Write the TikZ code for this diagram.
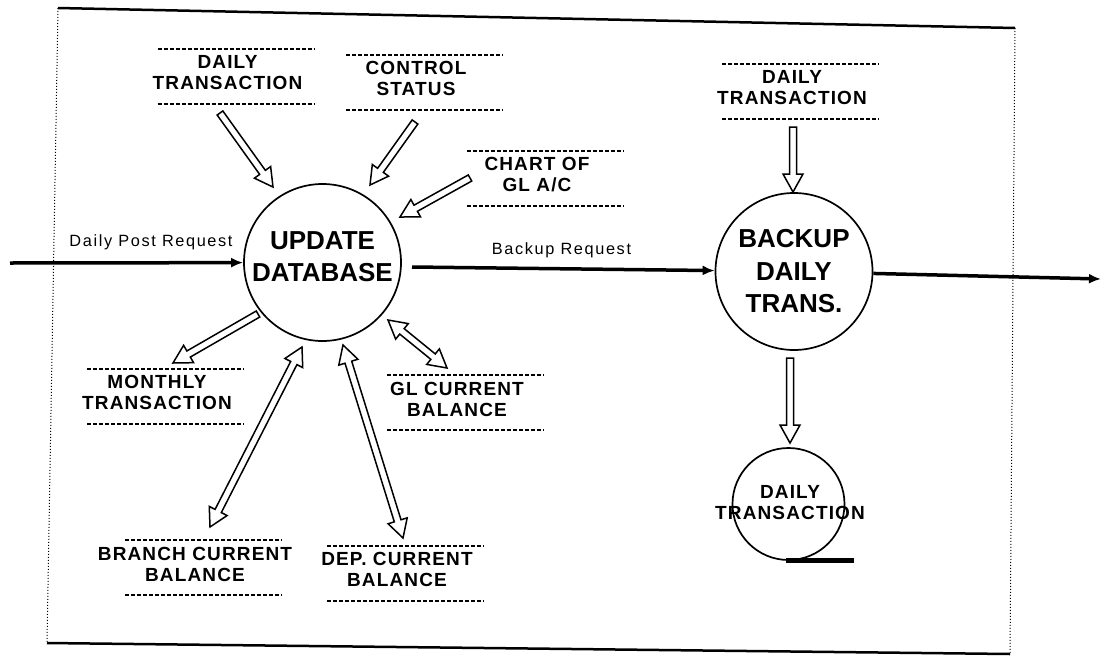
\documentclass[tikz,border=0pt]{standalone}
\usepackage{fontspec}
\setmainfont{Liberation Sans}
\newfontfamily\storefont[LetterSpace=6]{Liberation Sans}
\newfontfamily\flowfont[LetterSpace=10]{Liberation Sans}
\usetikzlibrary{arrows.meta,calc}

\tikzset{
  procfont/.style={font=\bfseries\fontsize{26}{32.5}\selectfont},
  proc/.style={circle, draw, line width=1.7pt, minimum size=157pt, inner sep=0pt,
    align=center, procfont},
  storetext/.style={align=center, inner sep=0pt,
    font=\storefont\bfseries\fontsize{19}{21}\selectfont},
  storeline/.style={line width=2pt, dash pattern=on 4pt off 2pt},
  store/.style={storetext, append after command={
      ([shift={(-70,-24)}]\tikzlastnode.center) edge[storeline] ([shift={(87,-24)}]\tikzlastnode.center)
      ([shift={(-70,31)}]\tikzlastnode.center) edge[storeline] ([shift={(87,31)}]\tikzlastnode.center)}},
  flow/.style={line width=3.5pt, -{Latex[length=12pt,width=10pt]}},
  flowlabel/.style={inner sep=0pt, font=\flowfont\fontsize{16.3}{18}\selectfont},
  hollow/.style={line width=1.5pt, line join=miter, fill=white},
  frameedge/.style={line width=2.5pt},
  frameside/.style={line width=1pt, dotted},
}

% hollow arrow with one open head, from #1 to #2
\newcommand\hollowarrow[2]{%
  \path ($(#2)!18pt!(#1)$) coordinate (hb);
  \draw[hollow] ($(#1)!3.5pt!90:(#2)$) -- ($(hb)!3.5pt!-90:(#1)$)
    -- ($(hb)!10pt!-90:(#1)$) -- (#2) -- ($(hb)!10pt!90:(#1)$)
    -- ($(hb)!3.5pt!90:(#1)$) -- ($(#1)!3.5pt!-90:(#2)$) -- cycle;}

% hollow arrow with open heads at both ends
\newcommand\hollowboth[2]{%
  \path ($(#2)!18pt!(#1)$) coordinate (hb) ($(#1)!18pt!(#2)$) coordinate (ha);
  \draw[hollow] (#1) -- ($(ha)!10pt!90:(#2)$) -- ($(ha)!3.5pt!90:(#2)$)
    -- ($(hb)!3.5pt!-90:(#1)$) -- ($(hb)!10pt!-90:(#1)$) -- (#2)
    -- ($(hb)!10pt!90:(#1)$) -- ($(hb)!3.5pt!90:(#1)$)
    -- ($(ha)!3.5pt!-90:(#2)$) -- ($(ha)!10pt!-90:(#2)$) -- cycle;}

\begin{document}
\begin{tikzpicture}[x=1pt,y=-1pt]
  \useasboundingbox (0,0) rectangle (1103,659);

  % page frame
  \coordinate (fTL) at (58,8);
  \coordinate (fTR) at (1015,28);
  \coordinate (fBR) at (1010,654);
  \coordinate (fBL) at (47,643);
  \draw[frameedge] (fTL) -- (fTR);
  \draw[frameedge] (fBL) -- (fBR);
  \draw[frameside] (fTL) -- (fBL);
  \draw[frameside] (fTR) -- (fBR);

  % processes
  \node[proc] (upd) at (322.5,262.5) {};
  \node[procfont, align=center, inner sep=0pt] (updtxt) at ([yshift=6pt]upd.center) {UPDATE\\DATABASE};
  \node[proc] (bak) at (794,271.5) {BACKUP\\DAILY\\TRANS.};

  % data stores
  \node[store] (sDT)  at (227.5,73)  {DAILY\\TRANSACTION};
  \node[store] (sCS)  at (416,78.5)  {CONTROL\\STATUS};
  \node[store] (sCH)  at (537,175)   {CHART OF\\GL A/C};
  \node[store] (sDT2) at (792,88)    {DAILY\\TRANSACTION};
  \node[store] (sMT)  at (157,392.5) {MONTHLY\\TRANSACTION};
  \node[store] (sGL)  at (457,399)   {GL CURRENT\\BALANCE};
  \node[store] (sBR)  at (195,564)   {BRANCH CURRENT\\BALANCE};
  \node[store] (sDP)  at (397,569.5) {DEP. CURRENT\\BALANCE};

  % backup file (tape symbol)
  \node[circle, draw, line width=1.7pt, minimum size=112pt, inner sep=0pt] (dtc) at (788.5,504) {};
  \node[storetext] (dtctxt) at (790,503) {DAILY\\TRANSACTION};
  \draw[line width=5pt] ([xshift=-3pt]dtc.south) -- ++(68,0);

  % main data flows
  \coordinate (inL) at (10,263);
  \coordinate (bk) at (412,267);
  \coordinate (outR) at (1101,279);
  \draw[flow] (inL) -- (upd);
  \draw[flow] (bk) -- (bak);
  \draw[flow] (bak) -- (outR);
  \node[flowlabel] (lblin) at (151,242) {Daily Post Request};
  \node[flowlabel] (lblbk) at (561.5,250) {Backup Request};

  % store accesses
  \coordinate (a1t) at (220,113);  \coordinate (a1h) at (273,187);
  \coordinate (a2t) at (415,122);  \coordinate (a2h) at (370,185);
  \coordinate (a3t) at (470,178);  \coordinate (a3h) at (400,217);
  \coordinate (a4t) at (793,127);  \coordinate (a4h) at (793,192);
  \coordinate (a5t) at (258,314);  \coordinate (a5h) at (173,363);
  \coordinate (a6t) at (790,358);  \coordinate (a6h) at (790,443);
  \coordinate (b1a) at (388,320);  \coordinate (b1b) at (447,368);
  \coordinate (b2a) at (302,347);  \coordinate (b2b) at (210,527);
  \coordinate (b3a) at (343,345);  \coordinate (b3b) at (403,538);

  \hollowarrow{a1t}{a1h}
  \hollowarrow{a2t}{a2h}
  \hollowarrow{a3t}{a3h}
  \hollowarrow{a4t}{a4h}
  \hollowarrow{a5t}{a5h}
  \hollowarrow{a6t}{a6h}
  \hollowboth{b1a}{b1b}
  \hollowboth{b2a}{b2b}
  \hollowboth{b3a}{b3b}
\end{tikzpicture}
\end{document}
